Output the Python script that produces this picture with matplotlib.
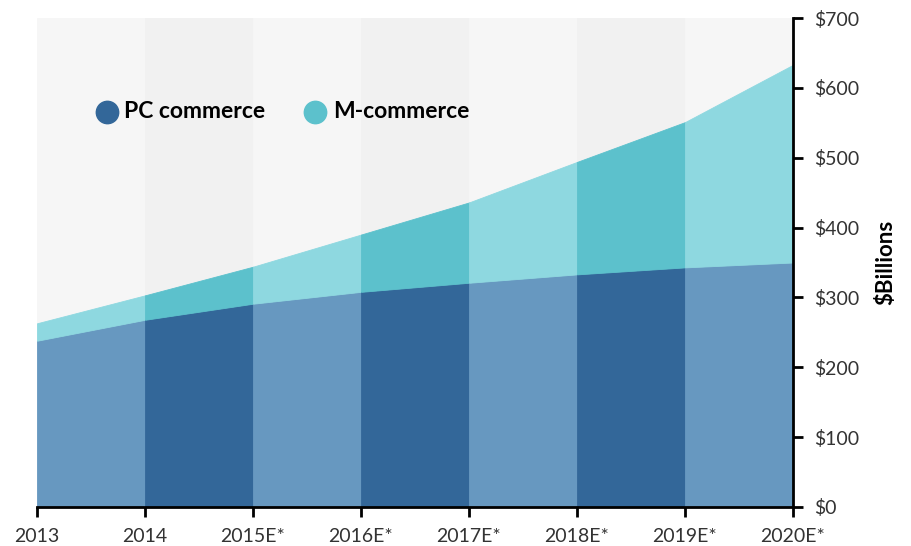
import matplotlib.pyplot as plt
import numpy as np

# data ($ billions)
years = ["2013", "2014", "2015E*", "2016E*", "2017E*", "2018E*", "2019E*", "2020E*"]
pc_commerce = [238, 268, 291, 308, 321, 333, 343, 350]
total_commerce = [263, 303, 344, 390, 436, 494, 551, 633]
m_commerce = [t - p for t, p in zip(total_commerce, pc_commerce)]
yticks = [0, 100, 200, 300, 400, 500, 600, 700]

pc_light, pc_dark = "#6798c0", "#336799"
m_light, m_dark = "#8ed8e0", "#5cc1cc"
bg_light, bg_dark = "#f6f6f6", "#f1f1f1"

plt.rcParams['font.family'] = ['Lato', 'DejaVu Sans']

fig = plt.figure(figsize=(9.12, 5.46), dpi=100)
ax = fig.add_axes([37 / 912, 39 / 546, 756 / 912, 489 / 546])

x = np.arange(len(years))
pc = np.array(pc_commerce)
tot = pc + np.array(m_commerce)

for i in range(len(years) - 1):
    dark = i % 2 == 1
    seg = slice(i, i + 2)
    bg = bg_dark if dark else bg_light
    c1 = pc_dark if dark else pc_light
    c2 = m_dark if dark else m_light
    ax.axvspan(i, i + 1, facecolor=bg, edgecolor=bg, lw=0.6, zorder=0)
    ax.fill_between(x[seg], 0, pc[seg], facecolor=c1, edgecolor=c1, lw=0.6, zorder=2)
    ax.fill_between(x[seg], pc[seg], tot[seg], facecolor=c2, edgecolor=c2, lw=0.6, zorder=2)

ax.set_xlim(0, len(years) - 1)
ax.set_ylim(0, 700)
ax.set_xticks(x)
ax.set_xticklabels(years)
ax.set_yticks(yticks)
ax.set_yticklabels(["$%d" % v for v in yticks])
ax.yaxis.tick_right()
ax.yaxis.set_label_position("right")
ax.set_ylabel("$Billions", fontsize=16, fontweight="bold", labelpad=12)

for s in ["top", "left"]:
    ax.spines[s].set_visible(False)
ax.spines["bottom"].set_linewidth(2)
ax.spines["right"].set_linewidth(2)
ax.spines["bottom"].set_zorder(5)
ax.spines["right"].set_zorder(5)
ax.tick_params(axis="x", length=7, width=2, pad=8, labelsize=14, labelcolor="#333333")
ax.tick_params(axis="y", length=7, width=2, pad=8, labelsize=14, labelcolor="#333333")

# legend drawn by hand
ly = (507 - 112) / 489
ax.scatter([70 / 756], [ly], s=260, color=pc_dark, transform=ax.transAxes, zorder=6, clip_on=False)
ax.text(87 / 756, ly, "PC commerce", transform=ax.transAxes, fontsize=16.5,
        fontweight="bold", va="center", ha="left", zorder=6)
ax.scatter([278 / 756], [ly], s=260, color=m_dark, transform=ax.transAxes, zorder=6, clip_on=False)
ax.text(296 / 756, ly, "M-commerce", transform=ax.transAxes, fontsize=16.5,
        fontweight="bold", va="center", ha="left", zorder=6)

fig.savefig("out.png", dpi=100)
